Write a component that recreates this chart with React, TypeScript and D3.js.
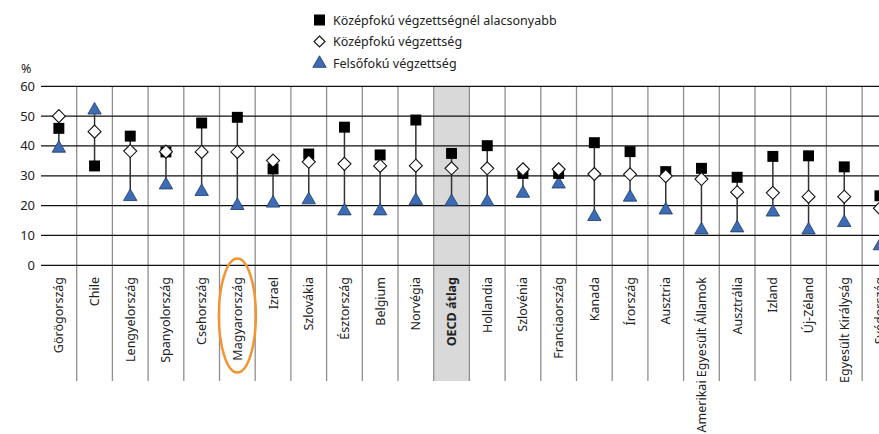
import * as d3 from 'd3'

const categories = [
  'Görögország', 'Chile', 'Lengyelország', 'Spanyolország', 'Csehország', 'Magyarország',
  'Izrael', 'Szlovákia', 'Észtország', 'Belgium', 'Norvégia', 'OECD átlag', 'Hollandia',
  'Szlovénia', 'Franciaország', 'Kanada', 'Írország', 'Ausztria', 'Amerikai Egyesült Államok',
  'Ausztrália', 'Izland', 'Új-Zéland', 'Egyesült Királyság', 'Svédország',
]

// Középfokú végzettségnél alacsonyabb
const belowSecondary = [
  45.9, 33.3, 43.3, 38, 47.7, 49.6, 32.3, 37.3, 46.3, 37, 48.7, 37.5, 40.1,
  30.8, 30.8, 41.1, 38.1, 31.4, 32.5, 29.5, 36.5, 36.7, 33, 23.3,
]
// Középfokú végzettség
const upperSecondary = [
  50, 44.8, 38.3, 38.1, 38, 38, 35.1, 34.7, 34, 33.3, 33.4, 32.5, 32.5,
  32.2, 32.2, 30.6, 30.5, 29.9, 28.9, 24.5, 24.3, 23, 23, 19.1,
]
// Felsőfokú végzettség
const tertiary = [
  39.2, 52, 23, 26.9, 24.7, 20, 20.8, 21.9, 18.2, 18.2, 21.7, 21.3, 21.3,
  24.1, 27.2, 16.3, 22.8, 18.5, 11.8, 12.5, 17.8, 11.8, 14.3, 6.5,
]

const yTicks = [0, 10, 20, 30, 40, 50, 60]
const legendLabels = [
  'Középfokú végzettségnél alacsonyabb',
  'Középfokú végzettség',
  'Felsőfokú végzettség',
]
const highlighted = 'Magyarország'
const average = 'OECD átlag'

const W = 879
const H = 434
const font = '"Noto Sans", "Open Sans", sans-serif'
const triColor = '#3d6cb4'

export default function App() {
  const x = d3.scaleBand<string>().domain(categories).range([41, 41 + 35.7 * categories.length])
  const y = d3.scaleLinear().domain([0, 60]).range([265.3, 86.3])
  const bw = x.bandwidth()
  const sepBottom = 381
  const cx = (c: string) => (x(c) ?? 0) + bw / 2

  const tri = d3.symbol().type(d3.symbolTriangle).size(78)
  const sq = d3.symbol().type(d3.symbolSquare).size(120)
  const diamond = (s: number) => `M0,${-s}L${s},0L0,${s}L${-s},0Z`

  return (
    <svg width={W} height={H} style={{ position: 'absolute', left: 0, top: 0, fontFamily: font }}>
      <rect width={W} height={H} fill="#fff" />
      <rect x={x(average)} y={y(60)} width={bw} height={sepBottom - y(60)} fill="#d9d9d9" />
      {categories.slice(1).map((c) => (
        <line key={c} x1={x(c)} x2={x(c)} y1={y(60)} y2={sepBottom} stroke="#8f8f8f" strokeWidth={1.3} />
      ))}
      {yTicks.map((t) => (
        <g key={t}>
          <line x1={41} x2={W} y1={y(t)} y2={y(t)} stroke="#111" strokeWidth={1.2} />
          <text x={35} y={y(t) + 4.5} textAnchor="end" fontSize={13} fill="#222">{t}</text>
        </g>
      ))}
      <text x={21} y={73} fontSize={12.5} fill="#222">%</text>

      {categories.map((c, i) => {
        const vals = [belowSecondary[i], upperSecondary[i], tertiary[i]]
        return (
          <line key={c} x1={cx(c)} x2={cx(c)} y1={y(d3.max(vals)!)} y2={y(d3.min(vals)!)} stroke="#333" strokeWidth={1.5} />
        )
      })}
      {categories.map((c, i) => (
        <g key={c}>
          <path d={tri()!} transform={`translate(${cx(c)},${y(tertiary[i])})`} fill={triColor} stroke="#1d3868" strokeWidth={0.8} />
          <path d={sq()!} transform={`translate(${cx(c)},${y(belowSecondary[i])})`} fill="#000" />
          <path d={diamond(6.5)} transform={`translate(${cx(c)},${y(upperSecondary[i])})`} fill="#fff" stroke="#111" strokeWidth={1.1} />
        </g>
      ))}

      {categories.map((c) => (
        <text
          key={c}
          transform={`translate(${cx(c) + 4.5},277) rotate(-90)`}
          textAnchor="end"
          fontSize={12.5}
          fontWeight={c === average ? 700 : 400}
          fill="#222"
        >
          {c}
        </text>
      ))}

      <ellipse cx={cx(highlighted)} cy={315.5} rx={18.5} ry={57} fill="none" stroke="#f39433" strokeWidth={2.5} />

      {legendLabels.map((l, i) => {
        const ly = 20 + i * 21.5
        return (
          <g key={l}>
            {i === 0 && <rect x={314} y={ly - 5.5} width={11} height={11} fill="#000" />}
            {i === 1 && <path d={diamond(5.5)} transform={`translate(319.5,${ly})`} fill="#fff" stroke="#111" strokeWidth={1.1} />}
            {i === 2 && <path d={tri()!} transform={`translate(319.5,${ly + 0.5})`} fill={triColor} stroke="#1d3868" strokeWidth={0.8} />}
            <text x={333} y={ly + 4.5} fontSize={12.5} fill="#222">{l}</text>
          </g>
        )
      })}
    </svg>
  )
}
